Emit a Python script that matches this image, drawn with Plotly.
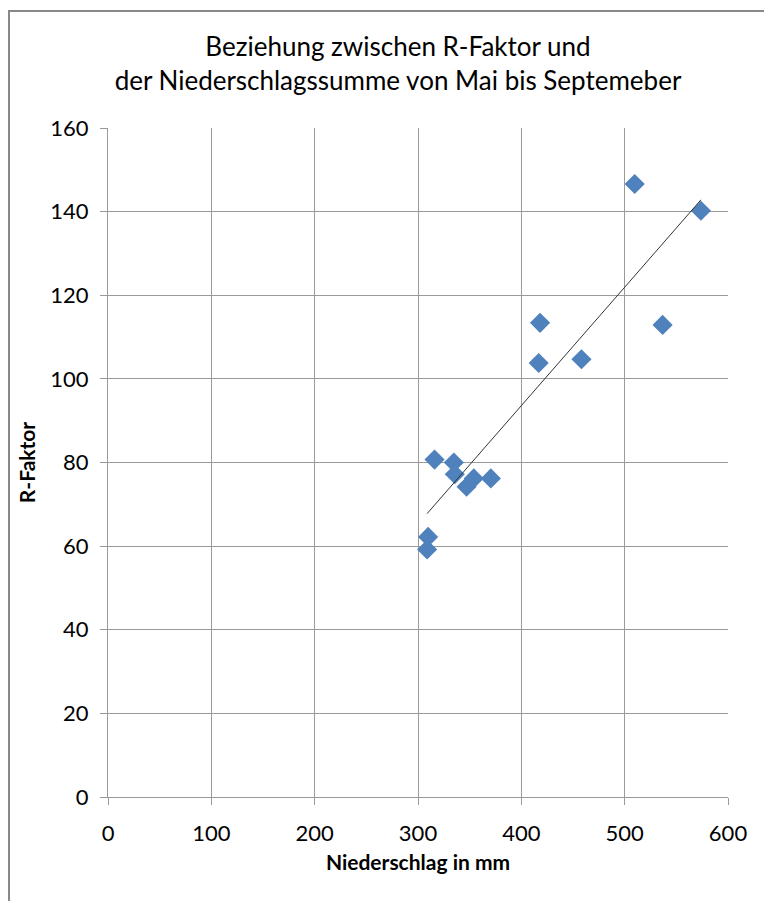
import numpy as np
import plotly.graph_objects as go

# Data
niederschlag = [509.7, 573.8, 418.1, 536.7, 416.8, 458.2, 316.0, 334.7,
                335.6, 347.0, 354.0, 370.5, 309.8, 308.8]
r_faktor = [146.6, 140.2, 113.4, 112.9, 103.8, 104.7, 80.7, 80.0,
            77.2, 74.2, 76.2, 76.2, 62.2, 59.2]

x_ticks = [0, 100, 200, 300, 400, 500, 600]
y_ticks = [0, 20, 40, 60, 80, 100, 120, 140, 160]

title_text = "Beziehung zwischen R-Faktor und<br>der Niederschlagssumme von Mai bis Septemeber"
x_title = "Niederschlag in mm"
y_title = "R-Faktor"

# Linear trend line from the data
xa = np.array(niederschlag)
ya = np.array(r_faktor)
slope, intercept = np.polyfit(xa, ya, 1)
trend_x = [xa.min(), xa.max()]
trend_y = [slope * v + intercept for v in trend_x]

FONT = "Lato"
GRID = "#9a9a9a"
W, H = 764, 893
ML, MR, MT, MB = 100, 44, 120, 104
PW, PH = W - ML - MR, H - MT - MB

fig = go.Figure()
fig.add_trace(go.Scatter(
    x=niederschlag, y=r_faktor, mode="markers",
    marker=dict(symbol="diamond", size=15.5, color="#4F81BD",
                line=dict(width=0)),
    showlegend=False, hoverinfo="x+y"))
fig.add_trace(go.Scatter(
    x=trend_x, y=trend_y, mode="lines",
    line=dict(color="#333333", width=1),
    showlegend=False, hoverinfo="skip"))

fig.update_layout(
    width=W, height=H, autosize=False,
    paper_bgcolor="white", plot_bgcolor="white",
    margin=dict(l=ML, r=MR, t=MT, b=MB, autoexpand=False),
    font=dict(family=FONT, size=22, color="#000000"),
    title=dict(text=title_text, x=390 / W, xanchor="center", xref="container",
               y=1 - 48 / H, yanchor="top", yref="container",
               font=dict(family=FONT, size=26, color="#000000")),
    xaxis=dict(range=[0, 600], tickvals=x_ticks, ticktext=[str(v) for v in x_ticks],
               automargin=False,
               showgrid=True, gridcolor=GRID, gridwidth=1,
               showline=True, linecolor=GRID, linewidth=1,
               ticks="outside", ticklen=7, tickcolor=GRID, tickwidth=1,
               ticklabelstandoff=10, zeroline=False, mirror=False,
               tickfont=dict(family=FONT, size=22, color="#000000"),
               title=dict(text="<b>" + x_title + "</b>", standoff=9,
                          font=dict(family=FONT, size=21, color="#000000"))),
    yaxis=dict(range=[0, 160], tickvals=y_ticks, ticktext=[str(v) for v in y_ticks],
               automargin=False,
               showgrid=True, gridcolor=GRID, gridwidth=1,
               showline=True, linecolor=GRID, linewidth=1,
               ticks="outside", ticklen=7, tickcolor=GRID, tickwidth=1,
               ticklabelstandoff=7, zeroline=False,
               tickfont=dict(family=FONT, size=22, color="#000000"),
               title=dict(text="<b>" + y_title + "</b>", standoff=8,
                          font=dict(family=FONT, size=21, color="#000000"))),
)

# Chart-area border (top and left visible, extends past window right/bottom)
fig.add_shape(type="rect", xref="paper", yref="paper",
              x0=-99 / PW, x1=1.2, y0=-0.3, y1=1 + 117 / PH,
              line=dict(color="#888888", width=2), fillcolor="rgba(0,0,0,0)",
              layer="below")

fig.write_html("out.html")
